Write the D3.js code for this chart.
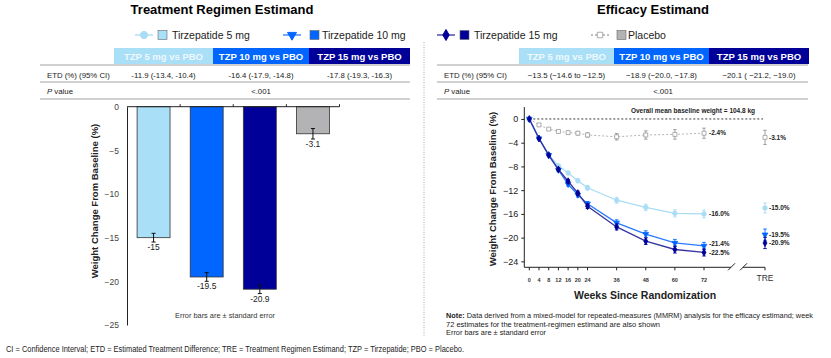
<!DOCTYPE html>
<html><head><meta charset="utf-8">
<script src="https://cdn.jsdelivr.net/npm/d3@7"></script>
<style>
body{margin:0;background:#fff;}
svg{display:block;font-family:"Liberation Sans",Arial,sans-serif;}
</style></head>
<body><svg id="c" width="831" height="358"></svg>
<script>
// ---------- DATA ----------
const seriesNames = ["Tirzepatide 5 mg","Tirzepatide 10 mg","Tirzepatide 15 mg","Placebo"];
const barValues = [-15, -19.5, -20.9, -3.1];
const barSE = [0.5, 0.5, 0.5, 0.6];
const barLabels = ["-15","-19.5","-20.9","-3.1"];
const barTicks = [0,-5,-10,-15,-20,-25];

const weeks = [0,4,8,12,16,20,24,36,48,60,72];
const tzp5 = [0,-3.3,-6.0,-7.9,-9.1,-10.4,-11.6,-13.7,-14.9,-15.9,-16.0];
const tzp10 = [0,-3.3,-6.1,-8.6,-11.0,-12.8,-14.3,-17.5,-19.4,-20.9,-21.4];
const tzp15 = [0,-3.3,-6.1,-8.5,-10.5,-12.5,-14.7,-18.2,-20.6,-22.0,-22.5];
const pbo = [0,-1.0,-1.7,-2.1,-2.3,-2.4,-2.7,-3.0,-2.7,-2.6,-2.4];
const se5 = [0,0.15,0.2,0.25,0.3,0.35,0.4,0.5,0.55,0.6,0.65];
const se10 = [0,0.15,0.2,0.25,0.3,0.35,0.4,0.5,0.55,0.6,0.6];
const se15 = [0,0.15,0.2,0.25,0.3,0.35,0.4,0.5,0.55,0.6,0.6];
const sePbo = [0,0.1,0.15,0.2,0.25,0.3,0.35,0.55,0.7,0.8,0.85];
const endLabels = ["-16.0%","-21.4%","-22.5%","-2.4%"];
const treValues = [-15.0,-19.5,-20.9,-3.1];
const treSE = [0.85,0.95,0.95,1.2];
const treLabels = ["-15.0%","-19.5%","-20.9%","-3.1%"];
const lineTicksY = [0,-4,-8,-12,-16,-20,-24];

const tableHeads = ["TZP 5 mg vs PBO","TZP 10 mg vs PBO","TZP 15 mg vs PBO"];
const etdLeft = ["-11.9 (-13.4, -10.4)","-16.4  (-17.9, -14.8)","-17.8 (-19.3, -16.3)"];
const etdRight = ["\u221213.5 (\u221214.6 to \u221212.5)","\u221218.9 (\u221220.0, \u221217.8)","\u221220.1 ( \u221221.2, \u221219.0)"];
const pValue = "<.001";

// ---------- STYLE ----------
const fills = ["#a9dff7","#0066ff","#000099","#b3b3b5"];
const lineCols = ["#a9dcf5","#2a7bff","#35359e","#aaaaaa"];
const markCols = ["#a9dcf5","#0066ff","#000099","#aaaaaa"];

const svg = d3.select("#c");

// titles
svg.append("text").attr("x",222).attr("y",14).attr("text-anchor","middle")
  .attr("font-size",13).attr("font-weight","bold").text("Treatment Regimen Estimand");
svg.append("text").attr("x",653).attr("y",14).attr("text-anchor","middle")
  .attr("font-size",13).attr("font-weight","bold").text("Efficacy Estimand");

// legend
const legendPos = [{x:135,b:158,t:172},{x:283,b:310,t:322},{x:437,b:460,t:474},{x:591,b:617,t:628}];
const symTypes = [d3.symbolCircle,d3.symbolTriangle,d3.symbolDiamond,d3.symbolSquare];
legendPos.forEach((p,i)=>{
  const g = svg.append("g");
  const ly = 35;
  g.append("line").attr("x1",p.x).attr("x2",p.x+18).attr("y1",ly).attr("y2",ly)
    .attr("stroke",lineCols[i]).attr("stroke-width",1.3).attr("stroke-dasharray",i===3?"2,2":null);
  const sym = d3.symbol().type(symTypes[i]).size(i===0?40:i===3?30:35);
  g.append("path").attr("d",sym()).attr("transform",`translate(${p.x+9},${ly})${i===1?" rotate(180)":""}`)
    .attr("fill",i===3?"#fff":markCols[i]).attr("stroke",i===3?"#aaa":markCols[i]);
  g.append("rect").attr("x",p.b).attr("y",ly-4.5).attr("width",9).attr("height",9)
    .attr("fill",fills[i]).attr("stroke","#666").attr("stroke-width",0.6);
  g.append("text").attr("x",p.t).attr("y",ly+4).attr("font-size",10.5).attr("fill","#222").text(seriesNames[i]);
});

// tables
function table(x0, cellX, etd, pX, lineEnd){
  cellX.forEach((cx,i)=>{
    svg.append("rect").attr("x",cx[0]).attr("y",48).attr("width",cx[1]-cx[0]).attr("height",16).attr("fill",fills[i]);
    svg.append("text").attr("x",(cx[0]+cx[1])/2).attr("y",59.5).attr("text-anchor","middle")
      .attr("font-size",9.5).attr("font-weight","bold").attr("fill",i===0?"#eef8fd":"#fff").text(tableHeads[i]);
    svg.append("text").attr("x",(cx[0]+cx[1])/2).attr("y",77.5).attr("text-anchor","middle")
      .attr("font-size",7.8).attr("fill","#222").text(etd[i]);
  });
  [65,82,99].forEach(y=>svg.append("line").attr("x1",x0).attr("x2",lineEnd).attr("y1",y).attr("y2",y)
    .attr("stroke","#999").attr("stroke-width",0.9));
  svg.append("text").attr("x",x0+7).attr("y",77.5).attr("font-size",7.8).attr("fill","#222").text("ETD (%) (95% CI)");
  const pt = svg.append("text").attr("x",x0+7).attr("y",94).attr("font-size",7.8).attr("fill","#222");
  pt.append("tspan").attr("font-style","italic").text("P");
  pt.append("tspan").text(" value");
  svg.append("text").attr("x",pX).attr("y",94).attr("text-anchor","middle").attr("font-size",7.8).attr("fill","#222").text(pValue);
}
table(40,[[114,213],[213,309],[309,410]],etdLeft,261,410);
table(437,[[519,614],[614,709],[709,809]],etdRight,663,808);

// separator
svg.append("line").attr("x1",424).attr("x2",424).attr("y1",42).attr("y2",336)
  .attr("stroke","#aaa").attr("stroke-width",1).attr("stroke-dasharray","1,1.5");

// ---------- BAR CHART ----------
const by = d3.scaleLinear().domain([-25,0]).range([325,106.7]);
const bx = d3.scaleBand().domain(seriesNames).range([127,339.5]).paddingInner(0.38).paddingOuter(0.19);
const bg = svg.append("g");
bg.selectAll("rect.bar").data(barValues).enter().append("rect")
  .attr("x",(d,i)=>bx(seriesNames[i])).attr("width",bx.bandwidth())
  .attr("y",by(0)).attr("height",d=>by(d)-by(0))
  .attr("fill",(d,i)=>fills[i]).attr("stroke","#333").attr("stroke-width",0.8);
bg.append("g").attr("transform","translate(127,0)")
  .call(d3.axisLeft(by).tickValues(barTicks).tickSize(0).tickPadding(8).tickFormat(d3.format("d")))
  .call(g=>{g.select(".domain").attr("stroke","#222");g.selectAll("text").attr("font-size",8.5).attr("fill","#444");});
bg.append("line").attr("x1",127).attr("x2",339.5).attr("y1",by(0)).attr("y2",by(0)).attr("stroke","#222");
seriesNames.forEach((s,i)=>{
  const xb = bx(s)+bx.bandwidth()+bx.step()*bx.paddingInner()/2;
  bg.append("line").attr("x1",xb).attr("x2",xb).attr("y1",by(0)).attr("y2",by(0)-2.5).attr("stroke","#222");
});
barValues.forEach((v,i)=>{
  const cx = bx(seriesNames[i])+bx.bandwidth()/2;
  const y1 = by(v+barSE[i]), y2 = by(v-barSE[i]);
  bg.append("line").attr("x1",cx).attr("x2",cx).attr("y1",y1).attr("y2",y2).attr("stroke","#111").attr("stroke-width",1);
  [y1,y2].forEach(y=>bg.append("line").attr("x1",cx-2).attr("x2",cx+2).attr("y1",y).attr("y2",y).attr("stroke","#111"));
  bg.append("text").attr("x",cx).attr("y",y2+8).attr("text-anchor","middle").attr("font-size",8.5).attr("fill","#222").text(barLabels[i]);
});
svg.append("text").attr("transform","translate(98,201) rotate(-90)").attr("text-anchor","middle")
  .attr("font-size",9.5).attr("font-weight","bold").attr("fill","#222").text("Weight Change From Baseline (%)");
svg.append("text").attr("x",175).attr("y",318).attr("font-size",7.5).attr("fill","#333")
  .attr("textLength",100).attr("lengthAdjust","spacingAndGlyphs").text("Error bars are \u00b1 standard error");

// ---------- LINE CHART ----------
const ly = d3.scaleLinear().domain([-25,2]).range([267.3,107.1]);
const lx = d3.scaleLinear().domain([0,72]).range([529.3,704]);
const treX = 765;
const lg = svg.append("g");
lg.append("g").attr("transform","translate(524.3,0)")
  .call(d3.axisLeft(ly).tickValues(lineTicksY).tickSize(3).tickPadding(3).tickFormat(d3.format("d")))
  .call(g=>{g.select(".domain").attr("stroke","#222").attr("d","M0,107.1V267.3");
    g.selectAll("line").attr("stroke","#222");
    g.selectAll("text").attr("font-size",9).attr("fill","#222");});
const xa = lg.append("g").attr("transform","translate(0,267.3)");
xa.append("line").attr("x1",524.3).attr("x2",731).attr("y1",0).attr("y2",0).attr("stroke","#222");
xa.append("line").attr("x1",743).attr("x2",treX).attr("y1",0).attr("y2",0).attr("stroke","#222");
[[728,735],[740,747]].forEach(b=>xa.append("line").attr("x1",b[0]).attr("x2",b[1]).attr("y1",3).attr("y2",-4).attr("stroke","#222"));
weeks.forEach(w=>{
  xa.append("line").attr("x1",lx(w)).attr("x2",lx(w)).attr("y1",0).attr("y2",3).attr("stroke","#222");
  xa.append("text").attr("x",lx(w)).attr("y",14.5).attr("text-anchor","middle").attr("font-size",5.5)
    .attr("font-weight","bold").attr("fill","#333").text(w);
});
xa.append("line").attr("x1",treX).attr("x2",treX).attr("y1",0).attr("y2",3).attr("stroke","#222");
xa.append("text").attr("x",treX).attr("y",13.5).attr("text-anchor","middle").attr("font-size",8.5).attr("fill","#333").text("TRE");
svg.append("text").attr("x",645).attr("y",299).attr("text-anchor","middle").attr("font-size",10.5)
  .attr("font-weight","bold").attr("fill","#222").text("Weeks Since Randomization");
svg.append("text").attr("transform","translate(496,189) rotate(-90)").attr("text-anchor","middle")
  .attr("font-size",9.5).attr("font-weight","bold").attr("fill","#222").text("Weight Change From Baseline (%)");
lg.append("line").attr("x1",lx(0)).attr("x2",763).attr("y1",ly(0)).attr("y2",ly(0))
  .attr("stroke","#222").attr("stroke-width",0.9).attr("stroke-dasharray","2,2");
svg.append("text").attr("x",693).attr("y",113).attr("text-anchor","middle").attr("font-size",6.5)
  .attr("font-weight","bold").attr("fill","#222").text("Overall mean baseline weight = 104.8 kg");

const seriesVals = [tzp5,tzp10,tzp15,pbo];
const seriesSE = [se5,se10,se15,sePbo];
const labelDy = [0,-2,0,0];
const lineGen = d3.line().x((d,i)=>lx(weeks[i])).y(d=>ly(d));
function marker(g,i,x,y){
  const sym = d3.symbol().type(symTypes[i]).size(i===0?16:i===3?16:14);
  g.append("path").attr("d",sym()).attr("transform",`translate(${x},${y})${i===1?" rotate(180)":""}`)
    .attr("fill",i===3?"#fff":markCols[i]).attr("stroke",i===3?"#999":markCols[i]).attr("stroke-width",0.8);
}
function errbar(g,i,x,v,se){
  if(se<=0) return;
  const c = i===3?"#999":markCols[i];
  const y1=ly(v+se), y2=ly(v-se);
  g.append("line").attr("x1",x).attr("x2",x).attr("y1",y1).attr("y2",y2).attr("stroke",c).attr("stroke-width",0.9);
  [y1,y2].forEach(y=>g.append("line").attr("x1",x-1.8).attr("x2",x+1.8).attr("y1",y).attr("y2",y).attr("stroke",c).attr("stroke-width",0.9));
}
[3,0,1,2].forEach(i=>{
  const g = lg.append("g");
  g.append("path").datum(seriesVals[i]).attr("d",lineGen).attr("fill","none")
    .attr("stroke",lineCols[i]).attr("stroke-width",i===3?0.9:1.3).attr("stroke-dasharray",i===3?"2,2":null);
  seriesVals[i].forEach((v,k)=>{errbar(g,i,lx(weeks[k]),v,seriesSE[i][k]);});
  seriesVals[i].forEach((v,k)=>{marker(g,i,lx(weeks[k]),ly(v));});
  const last = seriesVals[i][seriesVals[i].length-1];
  g.append("text").attr("x",lx(72)+5).attr("y",ly(last)+2.2+labelDy[i]).attr("font-size",6.5)
    .attr("font-weight","bold").attr("fill","#222").text(endLabels[i]);
  errbar(g,i,treX,treValues[i],treSE[i]);
  marker(g,i,treX,ly(treValues[i]));
  g.append("text").attr("x",treX+4).attr("y",ly(treValues[i])+2.2).attr("font-size",6.5)
    .attr("font-weight","bold").attr("fill","#222").text(treLabels[i]);
});

// note
const note = svg.append("g").attr("font-size",7.5).attr("fill","#222");
const n1 = note.append("text").attr("x",446).attr("y",318).attr("textLength",367).attr("lengthAdjust","spacingAndGlyphs");
n1.append("tspan").attr("font-weight","bold").text("Note:");
n1.append("tspan").text(" Data derived from a mixed-model for repeated-measures (MMRM) analysis for the efficacy estimand; week");
note.append("text").attr("x",446).attr("y",326.5).attr("textLength",214).attr("lengthAdjust","spacingAndGlyphs")
  .text("72 estimates for the treatment-regimen estimand are also shown");
note.append("text").attr("x",446).attr("y",335).attr("textLength",100).attr("lengthAdjust","spacingAndGlyphs")
  .text("Error bars are \u00b1 standard error");
svg.append("text").attr("x",6).attr("y",352).attr("font-size",8.5).attr("fill","#222")
  .attr("textLength",458).attr("lengthAdjust","spacingAndGlyphs")
  .text("CI = Confidence Interval; ETD = Estimated Treatment Difference; TRE = Treatment Regimen Estimand; TZP = Tirzepatide; PBO = Placebo.");
</script></body></html>
